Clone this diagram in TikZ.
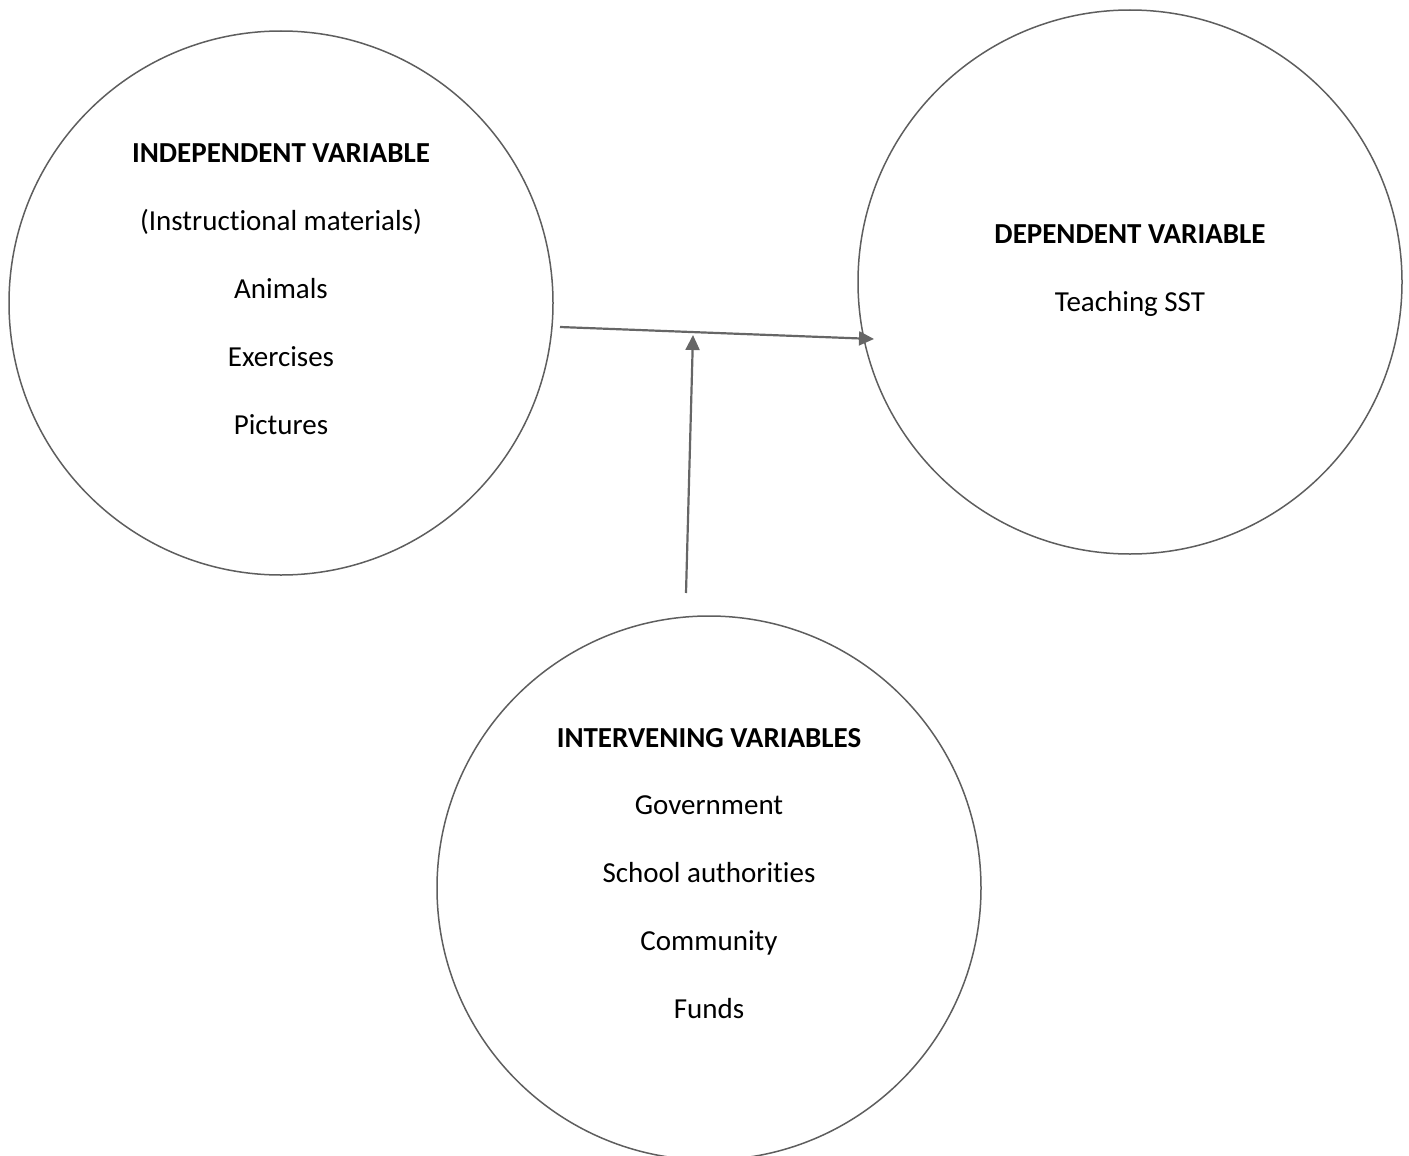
\documentclass[tikz,border=0pt]{standalone}
\usepackage{fontspec}
\setmainfont[Ligatures=NoCommon]{Carlito}
\usetikzlibrary{arrows.meta}
\definecolor{linegray}{HTML}{5E5E5E}
\definecolor{arrowgray}{HTML}{666666}
\tikzset{
  varcircle/.style={draw=linegray, line width=1.5pt, circle, minimum size=544pt, inner sep=0pt},
  lbl/.style={font=\fontsize{29}{34}\selectfont, anchor=base, text=black},
  hd/.style={lbl, font=\fontsize{29}{34}\selectfont\bfseries},
  conn/.style={draw=arrowgray, line width=2.2pt, -{Triangle[length=15pt,width=14pt]}}
}
\begin{document}
\begin{tikzpicture}[x=1pt,y=-1pt]
\useasboundingbox (0,0) rectangle (1409,1156);
\clip (0,0) rectangle (1409,1156);
\node[varcircle] (indep) at (281,303) {};
\node[varcircle] (dep) at (1130,282) {};
\node[varcircle] (interv) at (709,888) {};
% left texts
\node[hd] (t1) at (281,162) {INDEPENDENT VARIABLE};
\node[lbl] (t2) at (281,230) {(Instructional materials)};
\node[lbl] (t3) at (281,298) {Animals};
\node[lbl] (t4) at (281,366) {Exercises};
\node[lbl] (t5) at (281,434) {Pictures};
% right texts
\node[hd] (r1) at (1130,243) {DEPENDENT VARIABLE};
\node[lbl] (r2) at (1130,311) {Teaching SST};
% bottom texts
\node[hd] (b1) at (709,747) {INTERVENING VARIABLES};
\node[lbl] (b2) at (709,814) {Government};
\node[lbl] (b3) at (709,882) {School authorities};
\node[lbl] (b4) at (709,950) {Community};
\node[lbl] (b5) at (709,1018) {Funds};
% connectors
\coordinate (a1s) at (560,327);
\coordinate (a1e) at (874,339);
\coordinate (a2s) at (686,593);
\coordinate (a2e) at (693,335);
\draw[conn] (a1s) -- (a1e);
\draw[conn] (a2s) -- (a2e);
\end{tikzpicture}
\end{document}
